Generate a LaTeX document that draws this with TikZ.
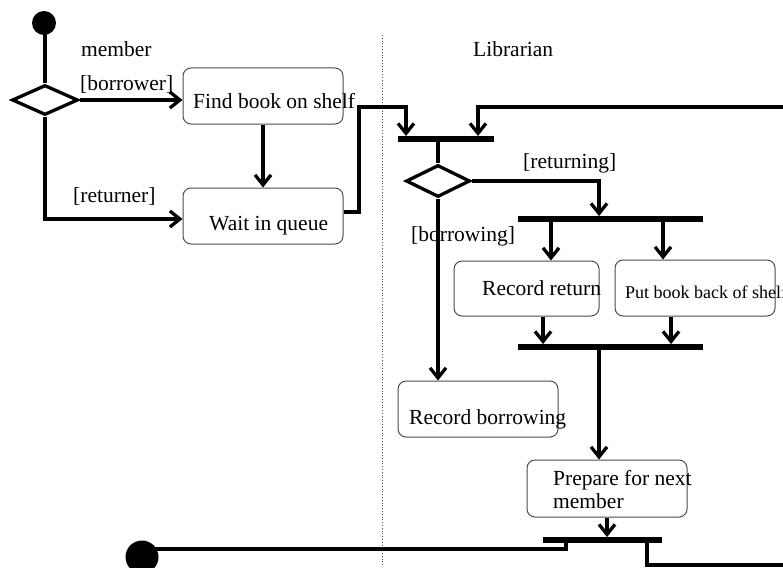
\documentclass[tikz,border=0pt]{standalone}
\usepackage{fontspec}
\setmainfont{Liberation Serif}
\usetikzlibrary{arrows.meta,shapes.geometric}

\tikzset{
  flow/.style={line width=3.3pt},
  arr/.style={flow, -{Straight Barb[length=10pt,width=16pt]}},
  actbox/.style={draw=black!70, line width=1pt, rounded corners=8pt,
    fill=white, inner sep=0pt},
  decision/.style={diamond, draw=black, line width=3.3pt, fill=white,
    inner sep=0pt},
  syncbar/.style={rectangle, fill=black, inner sep=0pt, minimum height=5.5pt},
  dot/.style={circle, fill=black, inner sep=0pt},
  lbl/.style={anchor=base west, inner sep=0pt,
    font=\fontsize{21.5}{24}\selectfont},
  smalllbl/.style={anchor=base west, inner sep=0pt,
    font=\fontsize{18}{21}\selectfont},
}

\begin{document}
\begin{tikzpicture}[x=1pt, y=-1pt]
  \useasboundingbox (0,0) rectangle (783,567);
  \clip (0,0) rectangle (783,567);

  % swimlane divider
  \coordinate (laneTop) at (382,35);
  \coordinate (laneBot) at (382,567);
  \draw[dotted, line width=0.8pt, black!70] (laneTop) -- (laneBot);

  % lane titles
  \node[lbl] (tMember) at (81,57) {member};
  \node[lbl] (tLibrarian) at (473,57) {Librarian};

  % member lane
  \node[dot, minimum size=24pt] (start) at (44,23) {};
  \node[decision, minimum width=66pt, minimum height=30pt] (dec1) at (45,100) {};
  \node[actbox, minimum width=160pt, minimum height=56pt] (find) at (263,96) {};
  \node[actbox, minimum width=160pt, minimum height=56pt] (wait) at (263,216) {};

  % librarian lane
  \node[syncbar, minimum width=96pt] (bar1) at (446,139) {};
  \node[decision, minimum width=64pt, minimum height=32pt] (dec2) at (438,181) {};
  \node[syncbar, minimum width=185pt] (bar2) at (610.5,219) {};
  \node[actbox, minimum width=145pt, minimum height=55pt] (recret) at (526.5,288.5) {};
  \node[actbox, minimum width=160pt, minimum height=56pt] (putbook) at (695,288) {};
  \node[syncbar, minimum width=185pt] (bar3) at (610.5,347) {};
  \node[actbox, minimum width=160pt, minimum height=56pt] (recbor) at (478,409) {};
  \node[actbox, minimum width=160pt, minimum height=57pt] (prep) at (607,488.5) {};
  \node[syncbar, minimum width=119pt] (bar4) at (602.5,540) {};
  \node[dot, minimum size=33pt] (final) at (142,557) {};

  % bends and the free ends of the loop that leaves on the right
  \coordinate (qBend) at (359,107);
  \coordinate (jBend) at (406,107);
  \coordinate (loopIn) at (790,107);
  \coordinate (loopOut) at (790,565);

  % member lane flows
  \draw[flow] (dec1.north) -- (dec1.north |- start);
  \draw[arr] (dec1.east) -- (dec1.east -| find.west);
  \draw[arr] (dec1.south) |- ([yshift=-3pt]wait.west);
  \draw[arr] (find.south) -- (wait.north);
  \draw[arr] ([yshift=4pt]wait.east) -| (qBend) -- (jBend)
    -- (jBend |- bar1.north);

  % librarian lane flows
  \draw[arr] (loopIn) -| ([xshift=32pt]bar1.north);
  \draw[flow] (dec2.north |- bar1.south) -- (dec2.north);
  \draw[arr] (dec2.east) -| ([xshift=-11.5pt]bar2.north);
  \draw[arr] ([xshift=24.5pt]recret.north |- bar2.south) -- ([xshift=24.5pt]recret.north);
  \draw[arr] ([xshift=-32pt]putbook.north |- bar2.south) -- ([xshift=-32pt]putbook.north);
  \draw[arr] ([xshift=16.5pt]recret.south) -- ([xshift=16.5pt]recret.south |- bar3.north);
  \draw[arr] ([xshift=-24pt]putbook.south) -- ([xshift=-24pt]putbook.south |- bar3.north);
  \draw[arr] (dec2.south) -- (dec2.south |- recbor.north);
  \draw[arr] ([xshift=-8pt]prep.north |- bar3.south) -- ([xshift=-8pt]prep.north);
  \draw[arr] (prep.south) -- (prep.south |- bar4.north);
  \draw[flow] ([xshift=-36.5pt]bar4.south) |- ([yshift=8pt]final.center);
  \draw[flow] ([xshift=44.5pt]bar4.south) |- (loopOut);

  % guard labels
  \node[lbl] (gBorrower) at (80,91) {[borrower]};
  \node[lbl] (gReturner) at (73,202) {[returner]};
  \node[lbl] (gReturning) at (523,168) {[returning]};
  \node[lbl] (gBorrowing) at (411,241) {[borrowing]};

  % activity texts
  \node[lbl] (xFind) at (193,108) {Find book on shelf};
  \node[lbl] (xWait) at (209,230) {Wait in queue};
  \node[lbl] (xRecret) at (482,295) {Record return};
  \node[smalllbl] (xPut) at (625,298) {Put book back of shelf};
  \node[lbl] (xRecbor) at (409,424) {Record borrowing};
  \node[lbl, align=left, anchor=north west] (xPrep) at (553,470)
    {Prepare for next\\[-1pt]member};
\end{tikzpicture}
\end{document}
